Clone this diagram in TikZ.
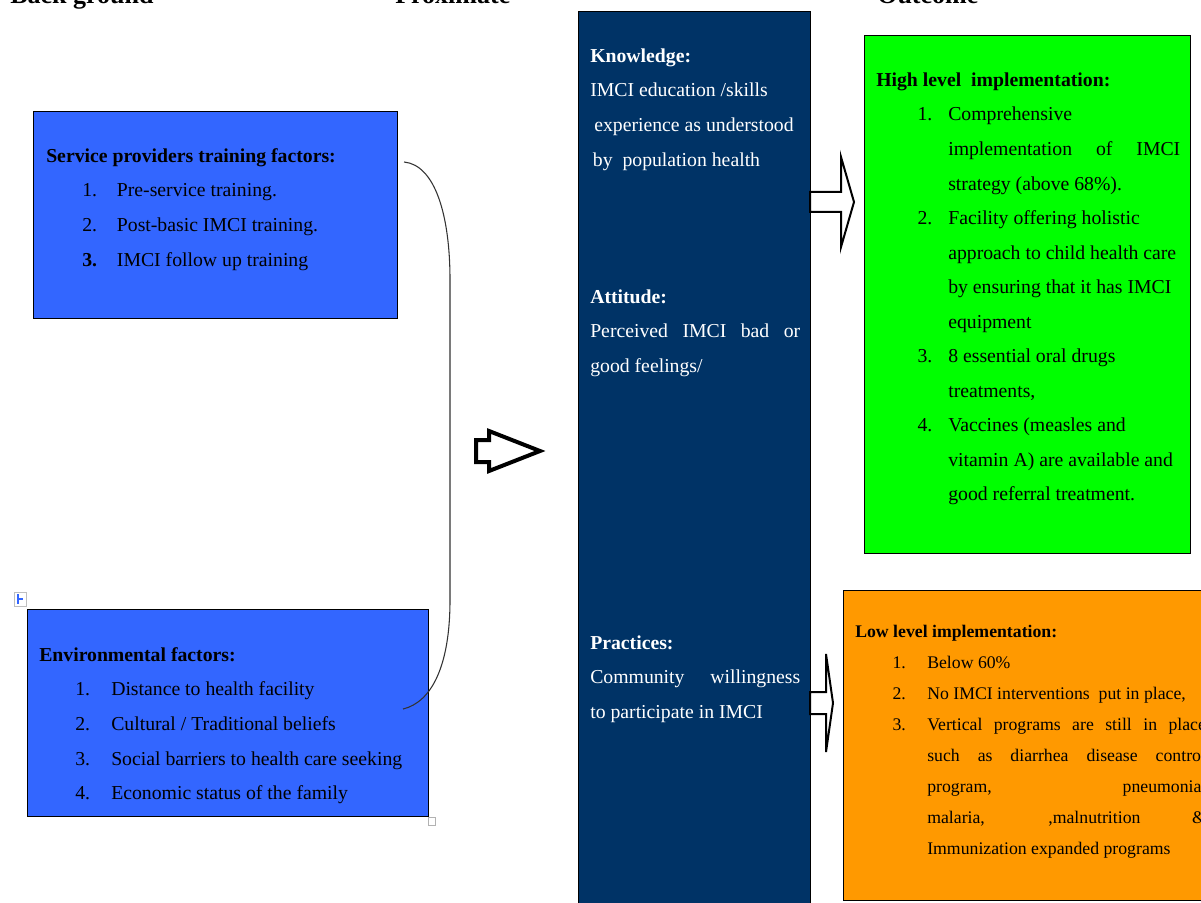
\documentclass[tikz,border=0pt]{standalone}
\usepackage{fontspec}
\setmainfont{Liberation Serif}
\usetikzlibrary{positioning}

\definecolor{navy}{HTML}{003366}
\definecolor{boxblue}{HTML}{3366FF}
\definecolor{hiGreen}{HTML}{00FF00}
\definecolor{loOrange}{HTML}{FF9900}

\tikzset{
  panel/.style={draw=black, line width=0.8pt, anchor=north west, inner sep=0pt},
  body/.style={anchor=north west, inner sep=0pt, font=\fontsize{14.8}{25.9}\selectfont},
  smallbody/.style={anchor=north west, inner sep=0pt, font=\fontsize{13.3}{23.3}\selectfont},
  head/.style={anchor=base west, inner sep=0pt, font=\fontsize{19.5}{22}\selectfont\bfseries},
  blockarrow/.style={draw=black, fill=white, line join=miter},
  bracket/.style={draw=black!80, line width=0.8pt},
}

\begin{document}
\begin{tikzpicture}[x=0.75pt, y=-0.75pt]
        \useasboundingbox (0,0) rectangle (1201,902);
        \clip (0,0) rectangle (1201,902);

        % column headings
        \node[head] (hBack) at (10,3.5) {Back ground};
        \node[head] (hProx) at (395,3.5) {Proximate};
        \node[head] (hOut)  at (877,3.5) {Outcome};

        % background factors
        \node[panel, fill=boxblue, minimum width=364*0.75pt, minimum height=207*0.75pt] (svc) at (33,111) {};
        \node[panel, fill=boxblue, minimum width=401*0.75pt, minimum height=207*0.75pt] (env) at (27,609) {};

        \node[body] (svcTxt) at ([shift={(13,27)}]svc.north west) {%
          \begin{tabular}{@{}p{53pt}@{}l@{}}
            \multicolumn{2}{@{}l@{}}{\bfseries Service providers training factors:}\\
            \hspace*{27pt}1. & Pre-service training.\\
            \hspace*{27pt}2. & Post-basic IMCI training.\\
            \hspace*{27pt}\textbf{3.} & IMCI follow up training
          \end{tabular}};
        \node[body] (envTxt) at ([shift={(12,28)}]env.north west) {%
          \begin{tabular}{@{}p{54pt}@{}l@{}}
            \multicolumn{2}{@{}l@{}}{\bfseries Environmental factors:}\\
            \hspace*{27pt}1. & Distance to health facility\\
            \hspace*{27pt}2. & Cultural / Traditional beliefs\\
            \hspace*{27pt}3. & Social barriers to health care seeking\\
            \hspace*{27pt}4. & Economic status of the family
          \end{tabular}};

        % word handles
        \draw[gray!50, fill=white] (14,592) rectangle (26,606);
        \draw[boxblue, line width=0.8pt] (18,594) -- (18,604) (18,599) -- (23,599);
        \draw[gray!60, fill=white] (428,817) rectangle (435,825);

        % bracket joining the two background boxes
        \coordinate (brTop) at ([shift={(6,51)}]svc.north east);
        \coordinate (brBot) at ([shift={(-26,100)}]env.north east);
        \draw[bracket] (brTop) .. controls (435,165) and (450,215) .. (450,280)
          -- (450,600) .. controls (450,665) and (432,702) .. (brBot);

        % proximate column
        \node[panel, fill=navy, minimum width=232*0.75pt, minimum height=899*0.75pt] (prox) at (578,11) {};
        \node[body, text=white] (knowTxt) at ([shift={(12,27)}]prox.north west) {%
          \begin{tabular}{@{}l@{}}
            \bfseries Knowledge:\\
            IMCI education /skills\\
            \hspace*{3pt}experience as understood\\
            \hspace*{2pt}by\ \ population health
          \end{tabular}};
        \node[body, text=white] (attTxt) at ([shift={(12,268)}]prox.north west) {%
          \begin{tabular}{@{}l@{}}
            \bfseries Attitude:\\
            \makebox[157.5pt][s]{Perceived IMCI bad or}\\
            good feelings/
          \end{tabular}};
        \node[body, text=white] (pracTxt) at ([shift={(12,614)}]prox.north west) {%
          \begin{tabular}{@{}l@{}}
            \bfseries Practices:\\
            \makebox[157.5pt][s]{Community willingness}\\
            to participate in IMCI
          \end{tabular}};

        % outcomes
        \node[panel, fill=hiGreen, minimum width=326*0.75pt, minimum height=518*0.75pt] (high) at (864,35) {};
        \node[panel, fill=loOrange, minimum width=370*0.75pt, minimum height=310*0.75pt] (low) at (843,590) {};

        \node[body] (highTxt) at ([shift={(12,27)}]high.north west) {%
          \begin{tabular}{@{}p{54pt}@{}l@{}}
            \multicolumn{2}{@{}l@{}}{\bfseries High level\ \ implementation:}\\
            \hspace*{31pt}1. & Comprehensive\\
             & \makebox[174pt][s]{implementation of IMCI}\\
             & strategy (above 68\%).\\
            \hspace*{31pt}2. & Facility offering holistic\\
             & approach to child health care\\
             & by ensuring that it has IMCI\\
             & equipment\\
            \hspace*{31pt}3. & 8 essential oral drugs\\
             & treatments,\\
            \hspace*{31pt}4. & Vaccines (measles and\\
             & vitamin A) are available and\\
             & good referral treatment.
          \end{tabular}};
        \node[smallbody] (lowTxt) at ([shift={(12,25)}]low.north west) {%
          \begin{tabular}{@{}p{54pt}@{}l@{}}
            \multicolumn{2}{@{}l@{}}{\bfseries Low level implementation:}\\
            \hspace*{28pt}1. & Below 60\%\\
            \hspace*{28pt}2. & No IMCI interventions\ \ put in place,\\
            \hspace*{28pt}3. & \makebox[209pt][s]{Vertical programs are still in place}\\
             & \makebox[209pt][s]{such as diarrhea disease control}\\
             & \makebox[209pt][s]{program, pneumonia,}\\
             & \makebox[209pt][s]{malaria, ,malnutrition \&}\\
             & Immunization expanded programs
          \end{tabular}};

        % block arrows
        \draw[blockarrow, line width=3pt] (476,440) -- (489,440) -- (489,431) -- (540,451)
          -- (489,471) -- (489,462) -- (476,462) -- cycle;
        \draw[blockarrow, line width=1.5pt] (810,192) -- (841,192) -- (841,157) -- (854,202)
          -- (841,247) -- (841,212) -- (810,212) -- cycle;
        \draw[blockarrow, line width=1.5pt] (810,692) -- (826,692) -- (826,654) -- (833,703)
          -- (826,752) -- (826,714) -- (810,714) -- cycle;
    \end{tikzpicture}
\end{document}
